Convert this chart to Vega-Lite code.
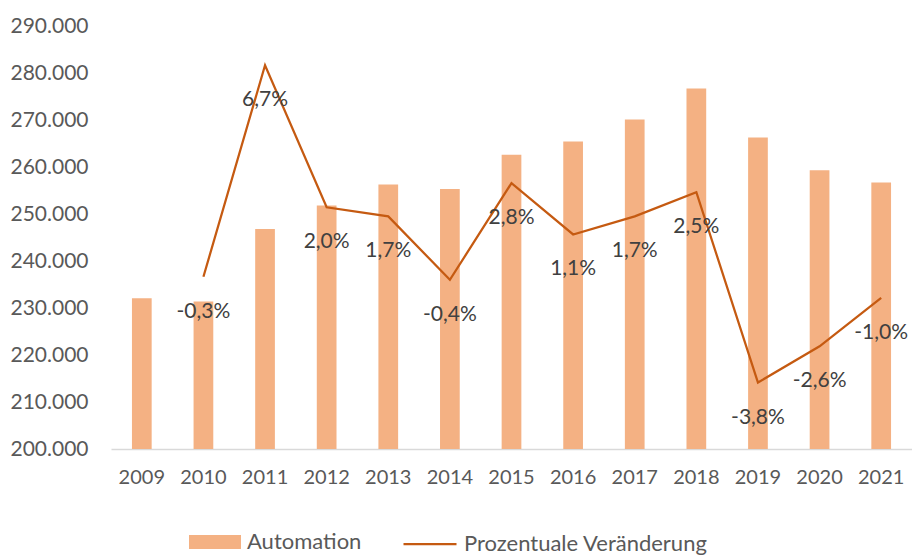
{
  "$schema": "https://vega.github.io/schema/vega-lite/v6.json",
  "autosize": "none",
  "width": 801,
  "height": 423,
  "padding": {"left": 111, "top": 26, "right": 0, "bottom": 108},
  "background": "white",
  "config": {
    "locale": {"number": {"decimal": ",", "thousands": ".", "grouping": [3], "currency": ["", " €"], "minus": "-"}},
    "view": {"stroke": null},
    "font": "Lato",
    "axis": {"labelFont": "Lato", "labelFontSize": 20, "labelColor": "#595959", "ticks": false, "grid": false}
  },
  "data": {"values": [
    {"year": "2009", "automation": 232100, "change": null},
    {"year": "2010", "automation": 231400, "change": -0.003},
    {"year": "2011", "automation": 246800, "change": 0.067},
    {"year": "2012", "automation": 251800, "change": 0.020},
    {"year": "2013", "automation": 256300, "change": 0.017},
    {"year": "2014", "automation": 255300, "change": -0.004},
    {"year": "2015", "automation": 262600, "change": 0.028},
    {"year": "2016", "automation": 265400, "change": 0.011},
    {"year": "2017", "automation": 270100, "change": 0.017},
    {"year": "2018", "automation": 276700, "change": 0.025},
    {"year": "2019", "automation": 266300, "change": -0.038},
    {"year": "2020", "automation": 259300, "change": -0.026},
    {"year": "2021", "automation": 256700, "change": -0.010}
  ]},
  "encoding": {
    "x": {"field": "year", "type": "ordinal", "title": null,
      "scale": {"paddingInner": 0.68, "paddingOuter": 0.34},
      "axis": {"labelAngle": 0, "domainColor": "#d9d9d9", "domainWidth": 1.5, "labelPadding": 18}}
  },
  "layer": [
    {
      "mark": {"type": "bar", "color": "#F4B183"},
      "encoding": {
        "y": {"field": "automation", "type": "quantitative", "title": null,
          "scale": {"domain": [200000, 290000], "nice": false, "zero": false},
          "axis": {"format": ",.0f", "values": [200000,210000,220000,230000,240000,250000,260000,270000,280000,290000], "domain": false, "labelPadding": 23, "labelFontSize": 21}},
        "y2": {"datum": 200000},
        "color": {"datum": "Automation", "type": "nominal",
          "scale": {"range": ["#F4B183"]},
          "legend": {"orient": "none", "legendX": 78, "legendY": 490, "title": null,
            "symbolType": "M-1,-0.27H1V0.27H-1Z", "symbolSize": 2704, "symbolStrokeWidth": 0,
            "labelFont": "Lato", "labelFontSize": 22, "labelColor": "#595959", "labelOffset": 6, "labelLimit": 400}}
      }
    },
    {
      "transform": [{"filter": "datum.change != null"}],
      "layer": [
        {
          "mark": {"type": "line", "color": "#C55A11", "strokeWidth": 2.25},
          "encoding": {
            "y": {"field": "change", "type": "quantitative", "axis": null,
              "scale": {"domain": [-0.06, 0.08], "nice": false, "zero": false}},
            "stroke": {"datum": "Prozentuale Veränderung", "type": "nominal",
              "scale": {"range": ["#C55A11"]},
              "legend": {"orient": "none", "legendX": 291, "legendY": 490, "title": null,
                "symbolType": "stroke", "symbolSize": 2809, "symbolStrokeWidth": 2.25,
                "labelFont": "Lato", "labelFontSize": 22, "labelColor": "#595959", "labelOffset": 6, "labelLimit": 400}}
          }
        },
        {
          "mark": {"type": "text", "dy": 35, "fontSize": 21, "font": "Lato", "color": "#404040"},
          "encoding": {
            "y": {"field": "change", "type": "quantitative", "axis": null,
              "scale": {"domain": [-0.06, 0.08], "nice": false, "zero": false}},
            "text": {"field": "change", "type": "quantitative", "format": ".1%"}
          }
        }
      ]
    }
  ],
  "resolve": {"scale": {"y": "independent", "color": "independent"}}
}
